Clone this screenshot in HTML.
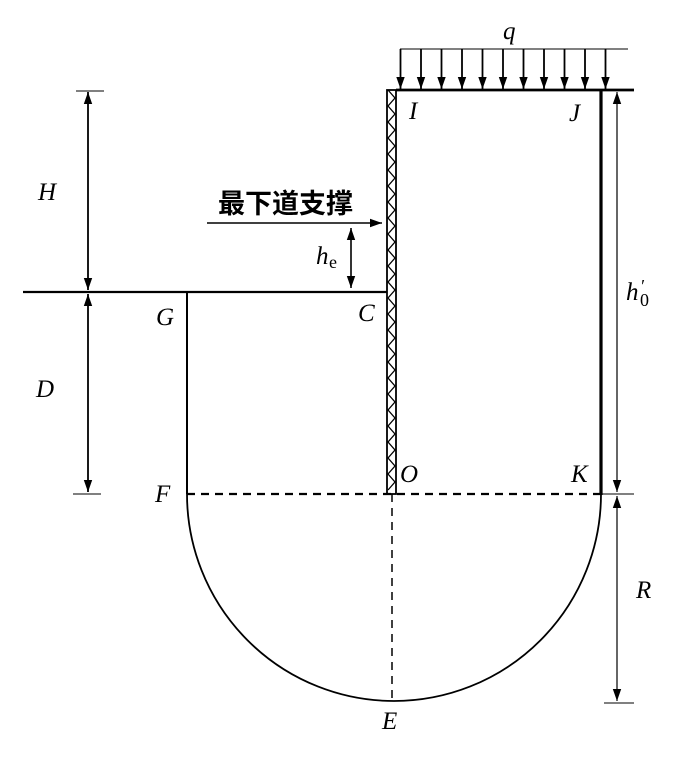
<!DOCTYPE html>
<html><head><meta charset="utf-8"><style>html,body{margin:0;padding:0;background:#fff}svg{display:block}</style></head>
<body>
<svg width="692" height="767" viewBox="0 0 692 767" xmlns="http://www.w3.org/2000/svg">
<defs>
<marker id="a" viewBox="0 0 10 10" refX="10" refY="5" markerWidth="12" markerHeight="12" markerUnits="userSpaceOnUse" orient="auto-start-reverse"><path d="M0,1.5 L10,5 L0,8.5 Z" fill="#000"/></marker>
</defs>
<g stroke="#000" fill="none">
<line x1="400" y1="49" x2="628" y2="49" stroke-width="1"/>
<g stroke-width="1.8" marker-end="url(#a)">
<line x1="400.5" y1="49" x2="400.5" y2="89"/><line x1="421" y1="49" x2="421" y2="89"/><line x1="441.5" y1="49" x2="441.5" y2="89"/><line x1="462" y1="49" x2="462" y2="89"/><line x1="482.5" y1="49" x2="482.5" y2="89"/><line x1="503" y1="49" x2="503" y2="89"/><line x1="523.5" y1="49" x2="523.5" y2="89"/><line x1="544" y1="49" x2="544" y2="89"/><line x1="564.5" y1="49" x2="564.5" y2="89"/><line x1="585" y1="49" x2="585" y2="89"/><line x1="605.5" y1="49" x2="605.5" y2="89"/>
</g>
<line x1="396" y1="90" x2="634" y2="90" stroke-width="2.8"/>
<line x1="601" y1="90" x2="601" y2="495" stroke-width="3.2"/>
<rect x="387" y="90" width="9" height="404" stroke-width="1.8"/>
<polyline stroke-width="1.3" points="388,90 395,98 388,106 395,114 388,122 395,130 388,138 395,146 388,154 395,162 388,170 395,178 388,186 395,194 388,202 395,210 388,218 395,226 388,234 395,242 388,250 395,258 388,266 395,274 388,282 395,290 388,298 395,306 388,314 395,322 388,330 395,338 388,346 395,354 388,362 395,370 388,378 395,386 388,394 395,402 388,410 395,418 388,426 395,434 388,442 395,450 388,458 395,466 388,474 395,482 388,490"/>
<line x1="23" y1="292" x2="387" y2="292" stroke-width="2.2"/>
<line x1="187" y1="292" x2="187" y2="494" stroke-width="2"/>
<line x1="187" y1="494" x2="601" y2="494" stroke-width="2.2" stroke-dasharray="8,6"/>
<line x1="392" y1="494" x2="392" y2="701" stroke-width="1.5" stroke-dasharray="8,6"/>
<path d="M187,494 A207,207 0 0 0 601,494" stroke-width="1.8"/>
<line x1="207" y1="223" x2="382" y2="223" stroke-width="1.6" marker-end="url(#a)"/>
<line x1="351" y1="258" x2="351" y2="228" stroke-width="1.6" marker-end="url(#a)"/>
<line x1="351" y1="258" x2="351" y2="288" stroke-width="1.6" marker-end="url(#a)"/>
<line x1="76" y1="91" x2="104" y2="91" stroke-width="1"/>
<line x1="73" y1="494" x2="101" y2="494" stroke-width="1"/>
<line x1="88" y1="190" x2="88" y2="92" stroke-width="1.8" marker-end="url(#a)"/>
<line x1="88" y1="190" x2="88" y2="290" stroke-width="1.8" marker-end="url(#a)"/>
<line x1="88" y1="390" x2="88" y2="294" stroke-width="1.8" marker-end="url(#a)"/>
<line x1="88" y1="390" x2="88" y2="492" stroke-width="1.8" marker-end="url(#a)"/>
<line x1="601" y1="494" x2="634" y2="494" stroke-width="1"/>
<line x1="604" y1="703" x2="634" y2="703" stroke-width="1"/>
<line x1="617" y1="290" x2="617" y2="92" stroke-width="1.2" marker-end="url(#a)"/>
<line x1="617" y1="290" x2="617" y2="492" stroke-width="1.2" marker-end="url(#a)"/>
<line x1="617" y1="600" x2="617" y2="496" stroke-width="1.2" marker-end="url(#a)"/>
<line x1="617" y1="600" x2="617" y2="701" stroke-width="1.2" marker-end="url(#a)"/>
</g>
<g font-family="Liberation Serif, serif" font-style="italic" font-size="25" fill="#000">
<text x="503" y="39">q</text>
<text x="409" y="119">I</text>
<text x="569" y="121">J</text>
<text x="38" y="200">H</text>
<text x="316" y="264">h</text>
<text x="156" y="325">G</text>
<text x="358" y="321">C</text>
<text x="36" y="397">D</text>
<text x="400" y="482">O</text>
<text x="571" y="482">K</text>
<text x="155" y="502">F</text>
<text x="636" y="598">R</text>
<text x="382" y="729">E</text>
<text x="626" y="300">h</text>
<text x="640" y="292" font-size="18">′</text>
</g>
<g font-family="Liberation Serif, serif" font-size="18" fill="#000">
<text x="329" y="268">e</text>
<text x="640" y="306">0</text>
</g>
<text x="218" y="213" font-family="'Liberation Sans','Noto Sans CJK SC',sans-serif" font-size="27" font-weight="bold" fill="#000">最下道支撑</text>
</svg>
</body></html>
